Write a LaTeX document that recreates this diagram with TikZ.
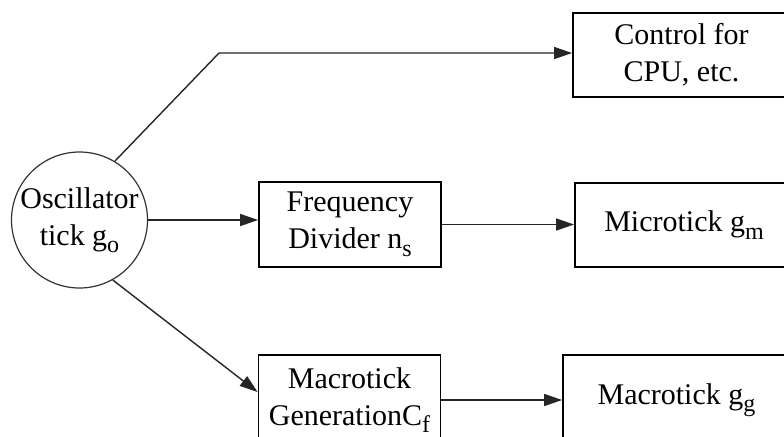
\documentclass[tikz,border=0pt]{standalone}
\usepackage{fontspec}
\setmainfont{Liberation Serif}
\usetikzlibrary{arrows.meta}
% lowered, smaller subscript letter
\newcommand\sbs[1]{\raisebox{-0.55ex}{\fontsize{12}{12}\selectfont #1}}
\tikzset{
  every node/.style={font=\fontsize{15}{18.5}\selectfont, text=black},
  blockbox/.style={draw, line width=0.9pt, align=center, inner sep=0pt},
  osccircle/.style={draw, circle, line width=0.6pt, draw=black!80, align=center, inner sep=0pt, minimum size=68pt},
  link/.style={line width=0.7pt, draw=black!85, -{Triangle[length=9pt,width=6pt]}}
}
\begin{document}
\begin{tikzpicture}[x=0.5pt,y=-0.5pt]
  \useasboundingbox (0,0) rectangle (784,436);
  \clip (0,0) rectangle (784,436);
  \fill[white] (0,0) rectangle (784,436);

  % source
  \node[osccircle] (osc) at (79.5,220) {Oscillator\\tick g\sbs{o}};

  % blocks
  \node[blockbox, minimum width=91pt, minimum height=42.5pt] (div) at (350,224.5) {Frequency\\Divider n\sbs{s}};
  \node[blockbox, minimum width=91pt, minimum height=45pt] (gen) at (349.5,400) {Macrotick\\GenerationC\sbs{f}};
  \node[blockbox, minimum width=108.5pt, minimum height=42pt] (ctrl) at (681.5,55) {Control for\\CPU, etc.};
  \node[blockbox, minimum width=109pt, minimum height=42pt] (micro) at (684,225) {Microtick g\sbs{m}};
  \node[blockbox, minimum width=113.5pt, minimum height=45pt] (macro) at (676.5,400) {Macrotick g\sbs{g}};

  % connectors
  \coordinate (bend) at (219,53);
  \coordinate (genin) at (0,392);
  \draw[link] (osc.59) -- (bend) -- (bend -| ctrl.west);
  \draw[link] (osc.east) -- (osc.east -| div.west);
  \draw[link] (div.east) -- (div.east -| micro.west);
  \draw[link] (osc.-61) -- (genin -| gen.west);
  \draw[link] (gen.east) -- (gen.east -| macro.west);
\end{tikzpicture}
\end{document}
